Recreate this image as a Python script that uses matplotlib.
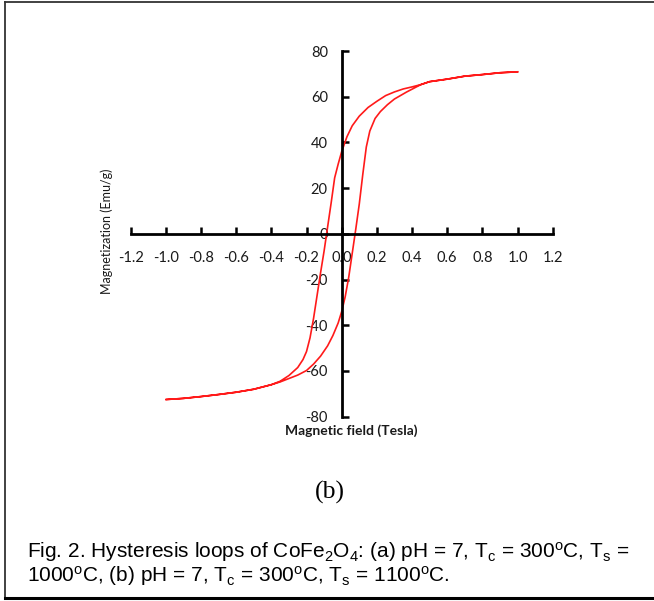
import matplotlib
matplotlib.use('Agg')
import matplotlib.pyplot as plt
from matplotlib.lines import Line2D

# hysteresis loop
# descending branch (+1 T -> -1 T)
field_down = [1.0, 0.9, 0.8, 0.7, 0.6, 0.5, 0.45, 0.4, 0.35, 0.3, 0.25, 0.2,
              0.15, 0.1, 0.06, 0.03, 0.0, -0.02, -0.04, -0.06, -0.08, -0.1,
              -0.12, -0.14, -0.16, -0.18, -0.2, -0.22, -0.25, -0.3, -0.35,
              -0.4, -0.5, -0.6, -0.7, -0.8, -0.9, -1.0]
mag_down = [70.9, 70.5, 69.7, 69.0, 67.7, 66.6, 65.3, 64.3, 63.4, 62.1, 60.5,
            58.0, 55.3, 51.5, 47.3, 42.5, 36.0, 30.5, 24.5, 13.5, 3.0, -7.5,
            -17.0, -27.0, -37.0, -45.5, -51.5, -55.0, -58.5, -62.0, -64.5,
            -66.0, -68.0, -69.3, -70.3, -71.2, -72.0, -72.5]
# ascending branch (-1 T -> +1 T)
field_up = [-1.0, -0.9, -0.8, -0.7, -0.6, -0.5, -0.4, -0.35, -0.3, -0.25,
            -0.2, -0.16, -0.12, -0.08, -0.05, -0.02, 0.0, 0.02, 0.04, 0.06,
            0.08, 0.1, 0.12, 0.14, 0.16, 0.19, 0.22, 0.26, 0.3, 0.37, 0.45,
            0.5, 0.6, 0.7, 0.8, 0.9, 1.0]
mag_up = [-72.5, -72.0, -71.2, -70.3, -69.3, -68.0, -66.0, -64.8, -63.3,
          -61.8, -59.8, -57.0, -53.5, -49.0, -44.5, -39.0, -34.0, -27.5,
          -19.0, -8.5, 2.0, 13.0, 26.0, 38.0, 45.0, 50.5, 53.5, 56.5, 59.0,
          62.1, 65.3, 66.6, 67.7, 69.0, 69.7, 70.5, 70.9]

xticks = [-1.2, -1.0, -0.8, -0.6, -0.4, -0.2, 0.0, 0.2, 0.4, 0.6, 0.8, 1.0, 1.2]
yticks = [-80, -60, -40, -20, 0, 20, 40, 60, 80]

tick_font = 'Lato'

plt.rcParams['mathtext.fontset'] = 'custom'
plt.rcParams['mathtext.rm'] = 'Liberation Sans'
plt.rcParams['mathtext.it'] = 'Liberation Sans'

fig = plt.figure(figsize=(6.54, 6.01), dpi=100)
ax = fig.add_axes([0.1998, 0.3067, 0.6453, 0.6084])

ax.plot(field_down + field_up, mag_down + mag_up, color='#ff1a1a', lw=1.2)

ax.set_xlim(-1.2, 1.2)
ax.set_ylim(-80, 80)
ax.patch.set_visible(False)

for side in ('top', 'right'):
    ax.spines[side].set_visible(False)
ax.spines['left'].set_position(('data', 0))
ax.spines['bottom'].set_position(('data', 0))
for side in ('left', 'bottom'):
    ax.spines[side].set_linewidth(2.0)
    ax.spines[side].set_color('black')

ax.set_xticks(xticks)
ax.set_xticklabels(['%.1f' % v for v in xticks])
ax.set_yticks(yticks)
ax.set_yticklabels([str(v) for v in yticks])
ax.tick_params(axis='x', direction='in', length=5, width=1.8, pad=12,
               labelsize=10.5, labelcolor='#1a1a1a')
ax.tick_params(axis='y', direction='in', length=5, width=1.8, pad=10,
               labelsize=10.5, labelcolor='#1a1a1a')
for lab in ax.get_xticklabels() + ax.get_yticklabels():
    lab.set_family(tick_font)

fig.text(0.1625, 0.6145, 'Magnetization (Emu/g)', rotation=90,
         ha='center', va='center', fontsize=9, family=tick_font,
         color='#1a1a1a')
fig.text(0.5378, 0.2835, 'Magnetic field (Tesla)', ha='center',
         va='center', fontsize=10, family=tick_font, weight='bold',
         color='#1a1a1a')
fig.text(0.505, 0.180, '(b)', ha='center', va='center', fontsize=18.5,
         family='Liberation Serif')

cap1 = (r'Fig. 2. Hysteresis loops of CoFe$_2$O$_4$: (a) pH = 7, '
        r'T$_\mathrm{c}$ = 300$^\mathrm{o}$C, T$_\mathrm{s}$ =')
cap2 = (r'1000$^\mathrm{o}$C, (b) pH = 7, T$_\mathrm{c}$ = 300$^\mathrm{o}$C, '
        r'T$_\mathrm{s}$ = 1100$^\mathrm{o}$C.')
fig.text(0.041, 1 - 552 / 601, cap1, ha='left', va='center', fontsize=15,
         family='Liberation Sans')
fig.text(0.041, 1 - 576 / 601, cap2, ha='left', va='center', fontsize=15,
         family='Liberation Sans')

# frame around the figure (no right edge visible in the original)
W, H = 654.0, 601.0
fig.add_artist(Line2D([5 / W, 1.0], [1 - 2 / H, 1 - 2 / H], color='#333333',
                      lw=1.3, transform=fig.transFigure))
fig.add_artist(Line2D([5.5 / W, 5.5 / W], [1 - 2 / H, 1 - 597.5 / H],
                      color='#333333', lw=1.3, transform=fig.transFigure))
fig.add_artist(Line2D([5 / W, 1.0], [1 - 597.5 / H, 1 - 597.5 / H],
                      color='black', lw=2.2, transform=fig.transFigure))

fig.savefig('out.png', dpi=100)
